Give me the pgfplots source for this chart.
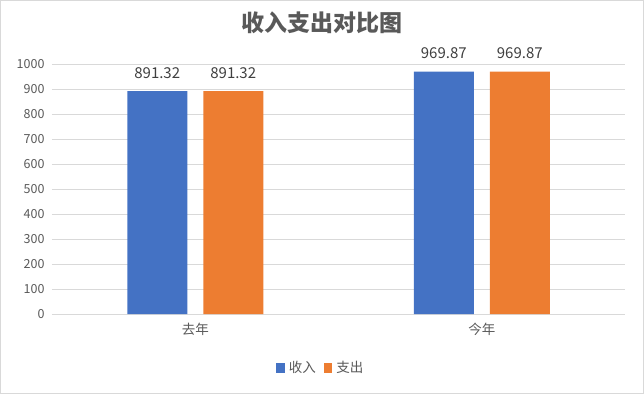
\documentclass[border=0pt]{standalone}
\usepackage{pgfplots}
\pgfplotsset{compat=1.18}
\usepackage{fontspec}
\setmainfont{Noto Sans CJK SC}
\newfontfamily\cjk{Noto Sans CJK SC}
\definecolor{xblue}{HTML}{4472C4}
\definecolor{xorange}{HTML}{ED7D31}
\definecolor{xgrid}{HTML}{D9D9D9}
\definecolor{xtext}{HTML}{595959}
\definecolor{xlab}{HTML}{404040}
\begin{document}
\begin{tikzpicture}
\draw[xgrid, line width=1pt] (-51.5pt,-79.5pt) rectangle (591.5pt,313.5pt);
\begin{axis}[
  scale only axis,
  width=573pt, height=250pt,
  xmin=-0.5, xmax=1.5,
  ymin=0, ymax=1000,
  ytick={0,100,...,1000},
  xtick={0,1},
  xticklabels={去年,今年},
  ybar, bar width=60pt,
  axis x line*=bottom, axis y line*=left,
  x axis line style={xgrid, line width=1pt, -},
  y axis line style={draw=none},
  major tick length=0pt,
  ymajorgrids, major grid style={xgrid, line width=0.8pt},
  tick label style={font=\fontsize{12.5}{14}\selectfont, text=xtext},
  yticklabel style={xshift=-4pt},
  xticklabel style={font=\fontsize{13.5}{15}\selectfont, text=xtext, yshift=-6pt},
  /pgf/number format/assume math mode=true,
  yticklabel={\pgfmathprintnumber[fixed,precision=0,1000 sep={}]{\tick}},
  nodes near coords,
  nodes near coords style={font=\fontsize{15}{17}\selectfont, text=xlab, yshift=9pt},
  point meta=explicit symbolic,
  title={\bfseries 收入支出对比图},
  title style={font=\fontsize{23}{26}\selectfont\bfseries, text=xtext, at={(0.471,1.14)}, anchor=center},
  legend style={at={(0.471,-0.216)}, anchor=center, draw=none, legend columns=2,
    font=\fontsize{13.5}{15}\selectfont, text=xtext,
    /tikz/every even column/.append style={column sep=4pt},
    nodes={inner xsep=4pt}},
  legend image code/.code={\fill[#1] (0pt,-5pt) rectangle (8.5pt,5pt);},
]
\addplot[fill=xblue, draw=none, bar shift=-38pt] coordinates {(0,891.32)[891.32] (1,969.87)[969.87]};
\addplot[fill=xorange, draw=none, bar shift=38pt] coordinates {(0,891.32)[891.32] (1,969.87)[969.87]};
\legend{收入,支出}
\end{axis}
\end{tikzpicture}
\end{document}
